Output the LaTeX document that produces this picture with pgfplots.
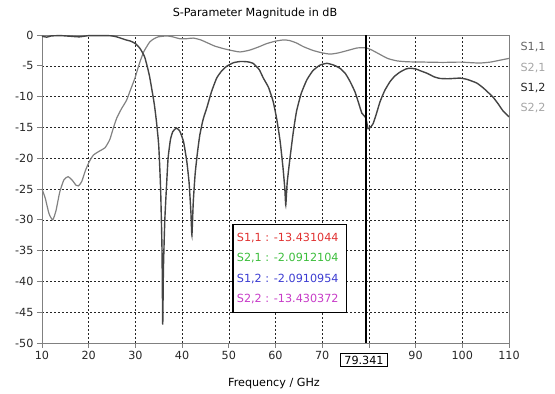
\documentclass[border=0pt]{standalone}
\usepackage{pgfplots}
\pgfplotsset{compat=1.18}
\usepackage{fontspec}
\setmainfont{DejaVu Sans}
\definecolor{refl}{RGB}{68,68,68}
\definecolor{trans}{RGB}{130,130,130}
\definecolor{mred}{RGB}{225,50,50}
\definecolor{mgreen}{RGB}{60,190,60}
\definecolor{mblue}{RGB}{60,60,210}
\definecolor{mmag}{RGB}{200,60,200}
\begin{document}
\begin{tikzpicture}
\useasboundingbox (-42pt,-51pt) rectangle (513pt,343pt);
\begin{axis}[
  at={(0pt,0pt)}, anchor=south west,
  width=467pt, height=308pt, scale only axis,
  xmin=10, xmax=110, ymin=-50, ymax=0,
  xtick={10,20,...,110},
  xticklabels={10,20,30,40,50,60,70,,90,100,110},
  ytick={-50,-45,...,0},
  yticklabels={-50,-45,-40,-35,-30,-25,-20,-15,-10,-5,0},
  font=\fontsize{11.2}{13}\selectfont,
  tick label style={font=\fontsize{11.2}{13}\selectfont, text=black!85},
  tick align=outside, major tick length=5pt,
  tick style={gray, line width=0.8pt},
  xtick pos=bottom, ytick pos=left,
  axis line style={draw=gray, line width=0.9pt},
  grid=major,
  major grid style={black!85, dash pattern=on 2pt off 2pt, line width=0.4pt},
  clip=true,
]
\addplot[trans, line width=1.2pt, smooth, tension=0.35] coordinates {
(10,-25)(10.7,-26.5)(11.5,-29)(12.3,-30)(13,-28.5)(13.8,-25.5)(14.7,-23.5)(15.6,-23)(16.5,-23.6)(17.3,-24.4)(17.8,-24.5)(18.5,-23.8)(19.3,-22)(20.1,-20.6)(21,-19.5)(22.4,-18.8)(23.5,-18.3)(24.5,-17)(25.2,-15.3)(26,-13.5)(27,-12)(28.1,-10.6)(29,-8.8)(29.9,-7)(30.5,-5.5)(31,-4.3)(31.8,-2.7)(32.5,-1.8)(33.1,-1.1)(34,-0.6)(34.9,-0.3)(36.7,-0.15)(38,-0.3)(39.5,-0.6)(41,-0.6)(42.4,-0.5)(44,-0.8)(45.5,-1.3)(47,-1.8)(48.8,-2.2)(50.5,-2.5)(52.4,-2.75)(54.5,-2.45)(56.5,-1.9)(58.1,-1.4)(60,-1.0)(61.7,-0.8)(63,-0.9)(64.5,-1.3)(66,-1.9)(68,-2.5)(70,-2.9)(71.7,-3.1)(73.5,-2.9)(76,-2.4)(77.5,-2.1)(79.341,-2.09)(80.5,-2.4)(82,-3.0)(84,-3.8)(86,-4.2)(88.3,-4.35)(92,-4.4)(95.9,-4.45)(99.5,-4.4)(102,-4.5)(103.8,-4.55)(106,-4.4)(108,-4.1)(110,-3.8)
};
\addplot[refl, line width=1.4pt, smooth, tension=0.3] coordinates {
(10,-0.2)(11,-0.35)(12,-0.15)(14,-0.1)(16,-0.2)(18,-0.3)(20,-0.1)(22,-0.1)(24,-0.1)(25,-0.15)(26,-0.3)(27,-0.55)(28,-0.8)(29,-1.0)(30,-1.4)(31,-2.2)(32,-3.6)(33,-6.6)(34,-11)(34.5,-14)(35,-18)(35.4,-25)(35.7,-35)(35.85,-47)(36.0,-38)(36.3,-30)(36.7,-24)(37,-20)(37.5,-17)(38,-15.7)(38.8,-15.1)(39.5,-15.6)(40.3,-17.3)(41,-20.5)(41.5,-24)(41.9,-29)(42.1,-32.5)(42.4,-27)(42.8,-22.5)(43.3,-19)(43.8,-16.2)(44.5,-13.7)(45.3,-11.8)(46.3,-9.2)(47.4,-7)(48.5,-5.8)(49.5,-5.1)(51,-4.5)(52.5,-4.3)(54,-4.35)(55.2,-4.6)(56.5,-5.6)(57.4,-7.0)(58.5,-8.5)(59.5,-10.8)(60.3,-13.8)(61,-17.3)(61.6,-21.5)(62.0,-25)(62.2,-27.6)(62.5,-24)(63.1,-20)(63.8,-15.8)(64.5,-12.4)(65.5,-9.5)(66.7,-7.3)(68,-5.8)(69.5,-4.9)(71,-4.6)(72.5,-4.9)(73.8,-5.4)(75,-6.3)(76,-7.6)(77,-9.2)(77.7,-10.8)(78.5,-12.7)(79.341,-13.43)(79.8,-15.2)(80.3,-15.0)(80.9,-14.4)(81.6,-12.8)(82.4,-10.8)(83.4,-9)(84.5,-7.6)(85.5,-6.7)(86.7,-6.0)(88,-5.5)(88.8,-5.4)(90,-5.5)(91,-5.8)(92.4,-6.2)(94,-6.8)(95.2,-7.05)(97,-7.1)(99.5,-7.0)(101,-7.2)(103.1,-7.8)(104.5,-8.6)(105.5,-9.3)(106.6,-10.1)(107.7,-11.2)(108.7,-12.3)(110,-13.3)
};
\draw[black, line width=1.4pt] (axis cs:79.341,-50) -- (axis cs:79.341,0);
\draw[black, line width=1.2pt, fill=white] (axis cs:50.9,-30.8) rectangle (axis cs:75.2,-45.1);
\node[anchor=west, text=mred, inner sep=0pt] at (axis cs:51.7,-32.9) {S1,1 : -13.431044};
\node[anchor=west, text=mgreen, inner sep=0pt] at (axis cs:51.7,-36.2) {S2,1 : -2.0912104};
\node[anchor=west, text=mblue, inner sep=0pt] at (axis cs:51.7,-39.6) {S1,2 : -2.0910954};
\node[anchor=west, text=mmag, inner sep=0pt] at (axis cs:51.7,-42.8) {S2,2 : -13.430372};
\end{axis}
\node[draw=black, line width=0.6pt, fill=white, inner xsep=4pt, inner ysep=2.5pt, font=\fontsize{11.2}{13}\selectfont] at (322pt,-17pt) {79.341};
\node[font=\fontsize{11.2}{13}\selectfont] at (213pt,330pt) {S-Parameter Magnitude in dB};
\node[font=\fontsize{11.2}{13}\selectfont] at (232pt,-41pt) {Frequency / GHz};
\node[anchor=west, font=\fontsize{11.2}{13}\selectfont, text=black!60] at (475pt,296pt) {S1,1};
\node[anchor=west, font=\fontsize{11.2}{13}\selectfont, text=black!35] at (475pt,275pt) {S2,1};
\node[anchor=west, font=\fontsize{11.2}{13}\selectfont, text=black!85] at (475pt,255pt) {S1,2};
\node[anchor=west, font=\fontsize{11.2}{13}\selectfont, text=black!35] at (475pt,235pt) {S2,2};
\end{tikzpicture}
\end{document}
